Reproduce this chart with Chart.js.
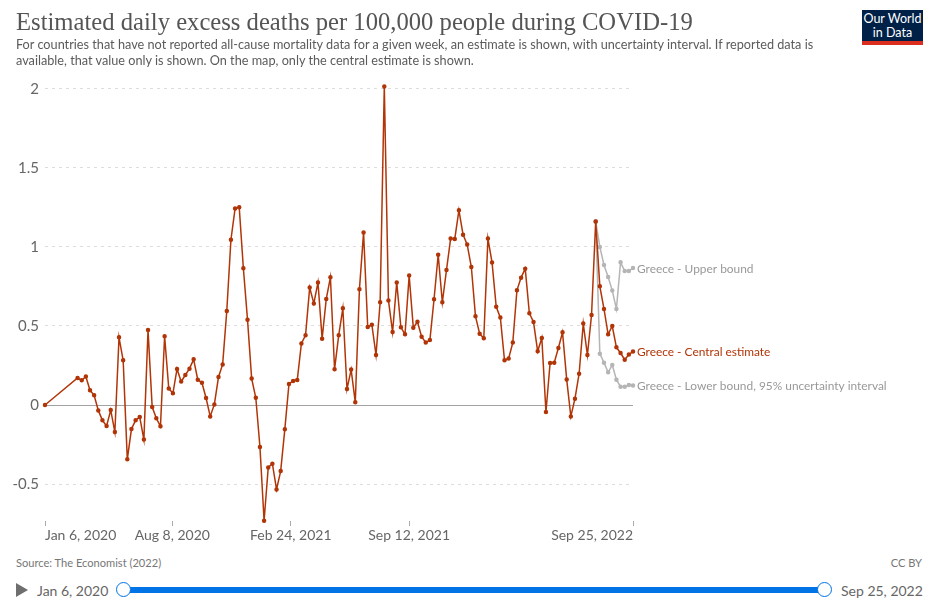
<!DOCTYPE html>
<html>
<head>
<meta charset="utf-8">
<script src="https://cdn.jsdelivr.net/npm/chart.js@4"></script>
<style>
body { margin: 0; background: #fff; font-family: Lato, sans-serif; color: #5b5b5b; }
#page { position: relative; width: 936px; height: 603px; overflow: hidden; }
#page > div { position: absolute; white-space: nowrap; }
#chartBox { left: 0; top: 0; width: 936px; height: 550px; }
#title { left: 16px; top: 8px; font: 24.65px "Liberation Serif", serif; color: #555; }
#subtitle { left: 16px; top: 37px; font-size: 12.7px; line-height: 15.5px; color: #5b5b5b; }
#logo { left: 862px; top: 10px; width: 61px; height: 31px; background: #002147; border-bottom: 4px solid #dc2e1e; color: #fff; font-size: 12.5px; line-height: 14px; text-align: center; }
#logo span { display: block; padding-top: 2px; }
#source { left: 16px; top: 556px; font-size: 11.1px; color: #777; }
#license { right: 14px; top: 556px; font-size: 11.1px; color: #777; }
#play { left: 16px; top: 583px; width: 0; height: 0; border-left: 12px solid #6e6e6e; border-top: 7px solid transparent; border-bottom: 7px solid transparent; }
.date { top: 582px; font-size: 14px; color: #666; }
#track { left: 124px; top: 587px; width: 701px; height: 6px; background: #0073e6; }
.handle { top: 582px; width: 13px; height: 13px; border: 1.5px solid #0073e6; border-radius: 50%; background: #fff; }
</style>
</head>
<body>
<div id="page">
  <div id="chartBox"><canvas id="excessChart"></canvas></div>
  <div id="title">Estimated daily excess deaths per 100,000 people during COVID-19</div>
  <div id="subtitle">For countries that have not reported all-cause mortality data for a given week, an estimate is shown, with uncertainty interval. If reported data is<br>available, that value only is shown. On the map, only the central estimate is shown.</div>
  <div id="logo"><span>Our World<br>in Data</span></div>
  <div id="source">Source: The Economist (2022)</div>
  <div id="license">CC BY</div>
  <div id="play"></div>
  <div class="date" style="left:37px">Jan 6, 2020</div>
  <div id="track"></div>
  <div class="handle" style="left:116px"></div>
  <div class="handle" style="left:817px"></div>
  <div class="date" style="left:841px">Sep 25, 2022</div>
</div>
<script>
// days since Jan 6, 2020: first report, then weekly from Mar 1, 2020
const firstDay = 0;
const weeklyStart = 55;
const weeklyStep = 7;

const centralEstimate = [
    0,
    0.171, 0.156, 0.18, 0.093, 0.061, -0.034, -0.097, -0.133, -0.032, -0.171, 0.428, 0.283,
    -0.344, -0.152, -0.097, -0.076, -0.219, 0.475, -0.013, -0.084, -0.135, 0.435, 0.105, 0.074,
    0.228, 0.148, 0.19, 0.23, 0.289, 0.16, 0.141, 0.044, -0.072, 0.004, 0.177, 0.257,
    0.595, 1.046, 1.243, 1.251, 0.865, 0.54, 0.167, 0.046, -0.266, -0.732, -0.395, -0.371,
    -0.534, -0.418, -0.154, 0.133, 0.152, 0.158, 0.39, 0.441, 0.743, 0.643, 0.776, 0.42,
    0.671, 0.808, 0.226, 0.441, 0.612, 0.101, 0.224, 0.017, 0.732, 1.091, 0.494, 0.508,
    0.316, 0.65,
    2.015, 0.662, 0.462, 0.776, 0.492, 0.447, 0.819, 0.489, 0.527, 0.432, 0.395, 0.411,
    0.669, 0.951, 0.65, 0.854, 1.053, 1.051, 1.232, 1.078, 1.015, 0.873, 0.561, 0.451,
    0.422, 1.053, 0.901, 0.622, 0.553, 0.283, 0.295, 0.395, 0.726,
    0.806, 0.863, 0.58, 0.525, 0.34, 0.424, -0.044, 0.266, 0.268, 0.361, 0.46, 0.162,
    -0.072, 0.04, 0.198, 0.515, 0.316, 0.57, 1.162, 0.751, 0.608, 0.447, 0.5, 0.365,
    0.329, 0.287, 0.32, 0.338
];

// the interval only exists for the last ten weeks
const upperBound = [1.162, 1.0, 0.886, 0.81, 0.724, 0.608, 0.903, 0.848, 0.848, 0.867];
const lowerBound = [1.162, 0.325, 0.268, 0.207, 0.253, 0.16, 0.116, 0.116, 0.127, 0.124];

const yTicks = [-0.5, 0, 0.5, 1, 1.5, 2];
const xTicks = [0, 215, 415, 615, 993];
const xTickLabels = ["Jan 6, 2020", "Aug 8, 2020", "Feb 24, 2021", "Sep 12, 2021", "Sep 25, 2022"];

const seriesLabels = ["Greece - Central estimate", "Greece - Upper bound", "Greece - Lower bound, 95% uncertainty interval"];

function dayAt(i) {
    return i === 0 ? firstDay : weeklyStart + (i - 1) * weeklyStep;
}

const centralPoints = centralEstimate.map((v, i) => ({ x: dayAt(i), y: v }));
const boundOffset = centralEstimate.length - upperBound.length - 1;
const upperPoints = upperBound.map((v, i) => ({ x: dayAt(i + boundOffset + 1), y: v }));
const lowerPoints = lowerBound.map((v, i) => ({ x: dayAt(i + boundOffset + 1), y: v }));

function lineDataset(label, data, color, order) {
    return {
        label: label,
        data: data,
        borderColor: color,
        backgroundColor: color,
        borderWidth: 1.5,
        pointRadius: 1.5,
        pointHoverRadius: 1.5,
        tension: 0,
        clip: false,
        order: order
    };
}

// end-of-line labels next to the last point of each series
const endLabels = {
    id: "endLabels",
    afterDatasetsDraw(c) {
        const ctx = c.ctx;
        ctx.save();
        ctx.font = "11.9px Lato";
        ctx.textBaseline = "middle";
        c.data.datasets.forEach((ds) => {
            const last = ds.data[ds.data.length - 1];
            ctx.fillStyle = ds.labelColor;
            ctx.fillText(ds.label, c.scales.x.getPixelForValue(last.x) + 4, c.scales.y.getPixelForValue(last.y) + 1);
        });
        ctx.restore();
    }
};

const datasets = [
    lineDataset(seriesLabels[0], centralPoints, "#b13507", 0),
    lineDataset(seriesLabels[1], upperPoints, "#b5b5b5", 1),
    lineDataset(seriesLabels[2], lowerPoints, "#b5b5b5", 1)
];
datasets[0].labelColor = "#b13507";
datasets[1].labelColor = "#999";
datasets[2].labelColor = "#999";

new Chart(document.getElementById("excessChart").getContext("2d"), {
    type: "line",
    data: { datasets: datasets },
    options: {
        responsive: true,
        maintainAspectRatio: false,
        animation: false,
        events: [],
        layout: { padding: { top: 85, right: 303, left: 0, bottom: 0 } },
        plugins: {
            legend: { display: false },
            tooltip: { enabled: false }
        },
        scales: {
            x: {
                type: "linear",
                min: 0,
                max: 993,
                afterBuildTicks: (axis) => { axis.ticks = xTicks.map((v) => ({ value: v })); },
                afterFit: (axis) => { axis.height = 29; },
                grid: { drawOnChartArea: false, drawTicks: true, tickLength: 5, tickColor: "#aaa" },
                border: { display: false },
                ticks: {
                    autoSkip: false,
                    maxRotation: 0,
                    align: "inner",
                    padding: 1,
                    color: "#666",
                    font: { family: "Lato", size: 14 },
                    callback: (v) => xTickLabels[xTicks.indexOf(v)]
                }
            },
            y: {
                min: -0.734,
                max: 2.025,
                afterBuildTicks: (axis) => { axis.ticks = yTicks.map((v) => ({ value: v })); },
                afterFit: (axis) => { axis.width = 45; },
                grid: {
                    drawTicks: false,
                    color: (ctx) => ctx.tick.value === 0 ? "#a3a3a3" : "#dddddd",
                    lineWidth: 1
                },
                border: {
                    display: false,
                    dash: (ctx) => ctx.tick.value === 0 ? [] : [3, 4]
                },
                ticks: {
                    padding: 6,
                    color: "#666",
                    font: { family: "Lato", size: 15 },
                    callback: (v) => String(v)
                }
            }
        }
    },
    plugins: [endLabels]
});
</script>
</body>
</html>
